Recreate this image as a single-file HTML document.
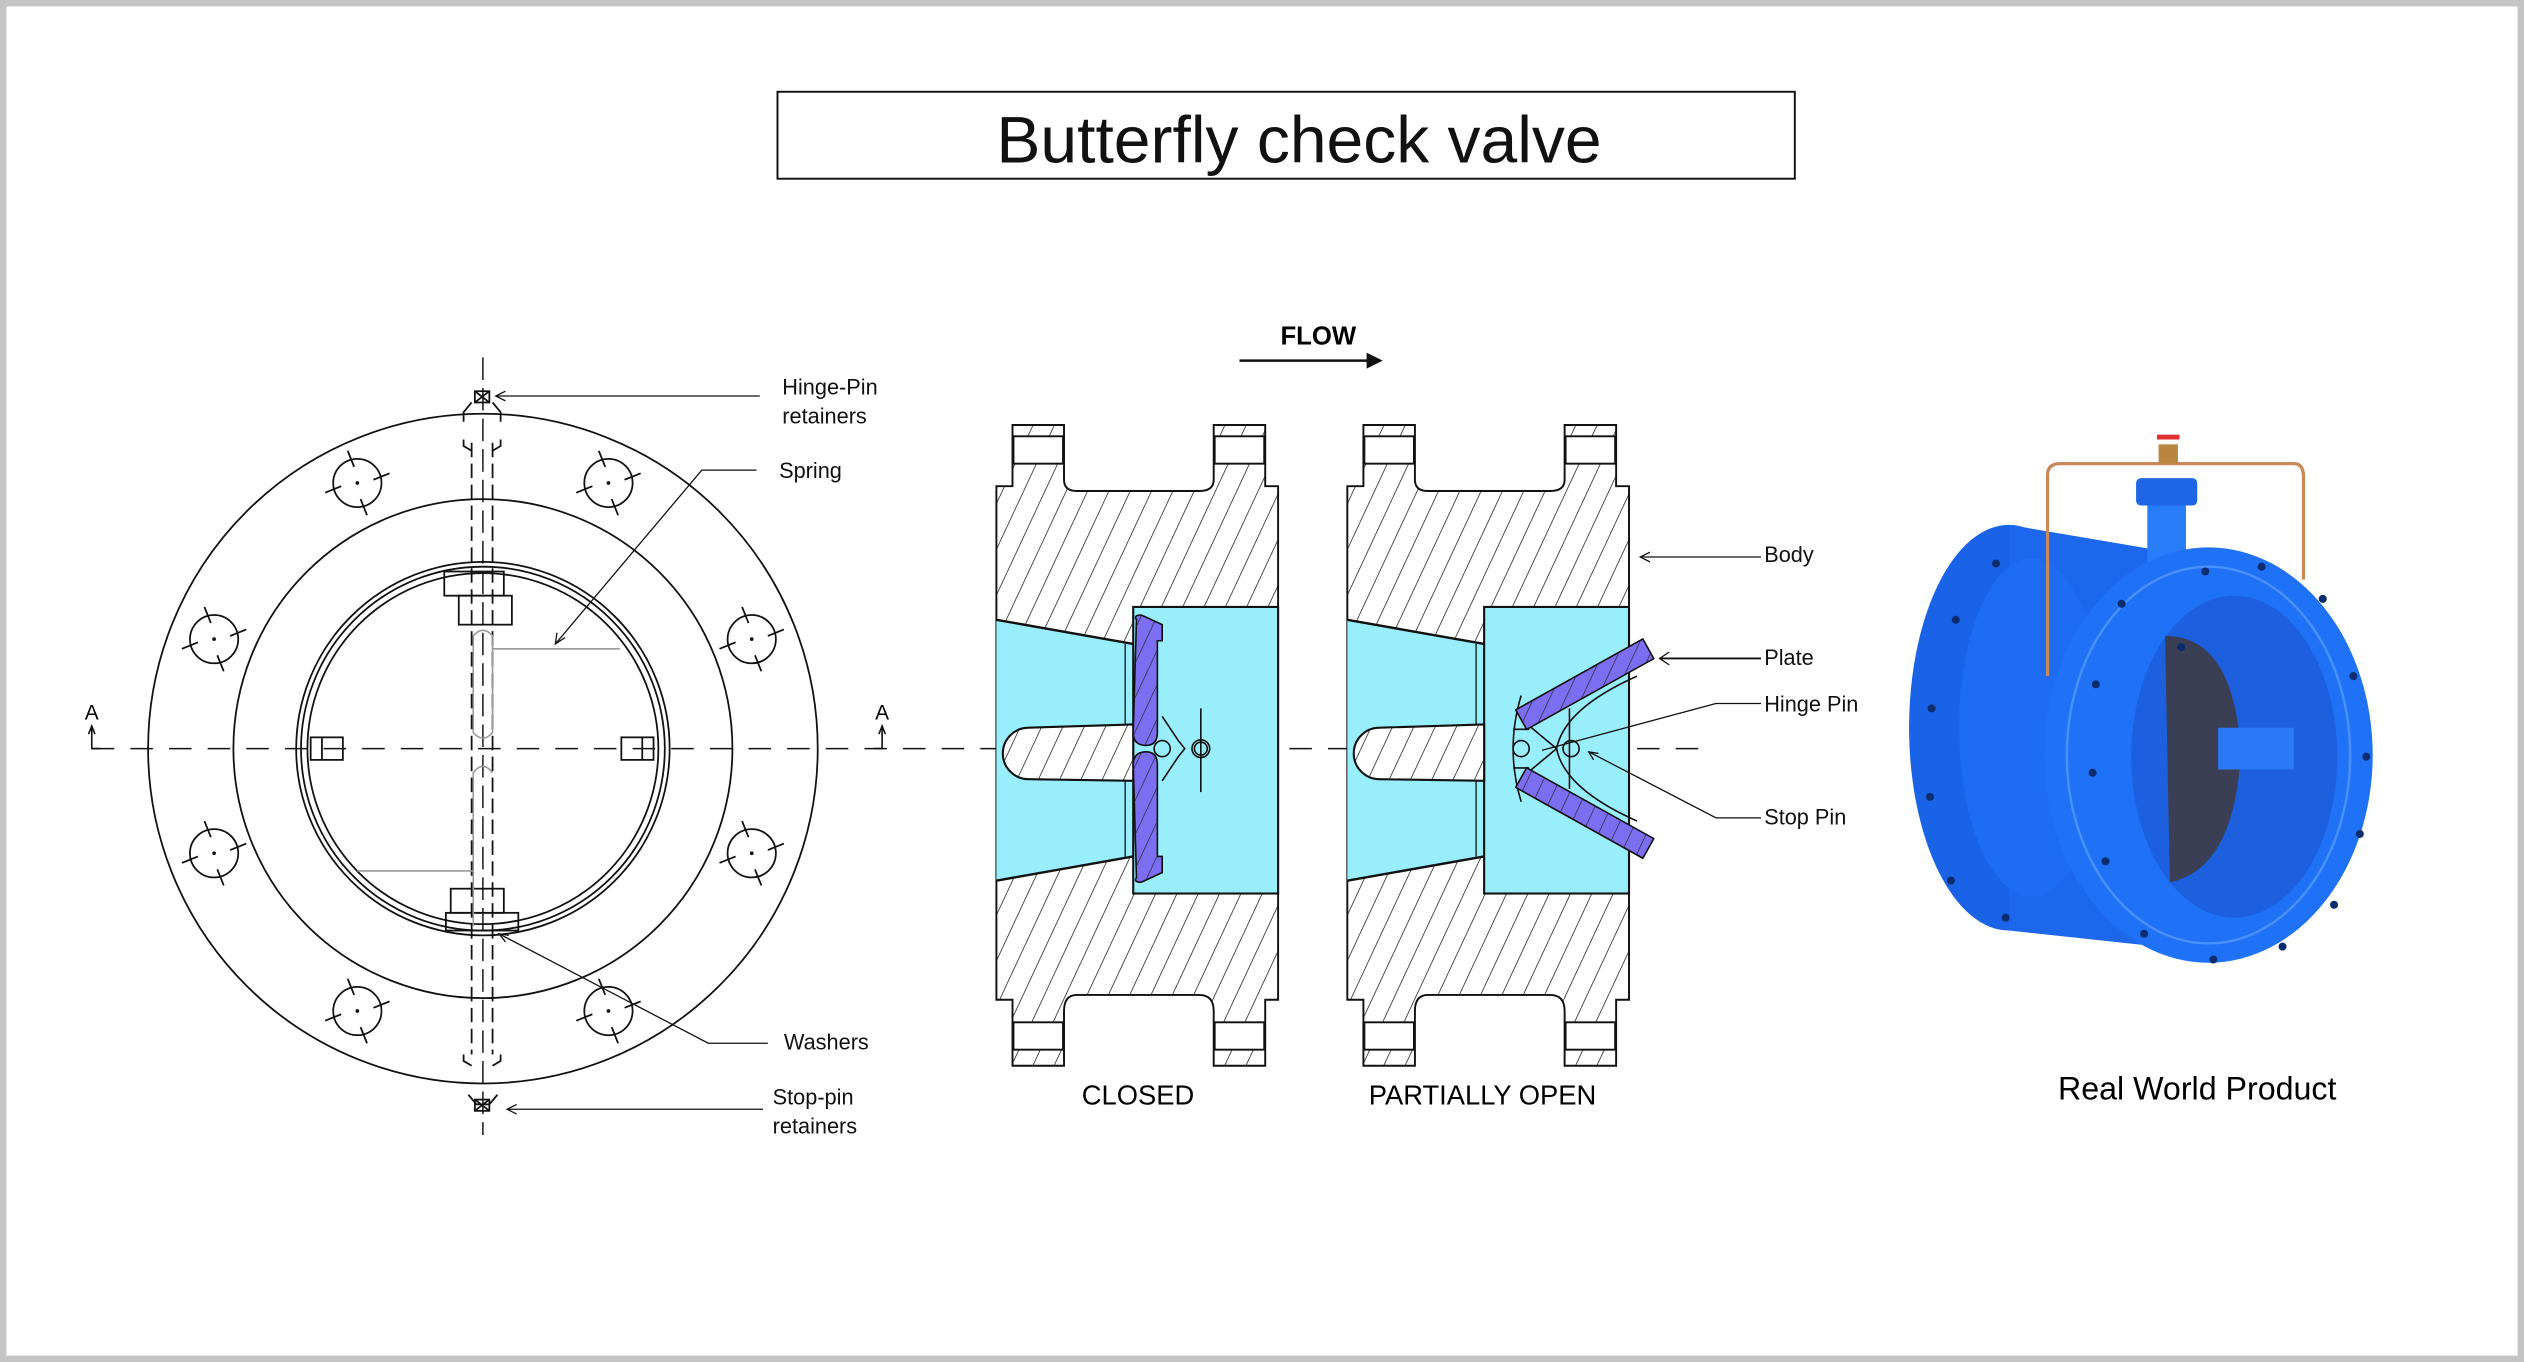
<!DOCTYPE html>
<html><head><meta charset="utf-8"><style>
html,body{margin:0;padding:0;background:#fff;}
svg{display:block;}
text{font-family:"Liberation Sans","DejaVu Sans",sans-serif;}
</style></head><body>
<svg width="2524" height="1362" viewBox="0 0 1568 846" preserveAspectRatio="none" xmlns="http://www.w3.org/2000/svg">
<defs>
<pattern id="h" patternUnits="userSpaceOnUse" width="12" height="12" patternTransform="rotate(25)">
<line x1="0" y1="0" x2="0" y2="12" stroke="#111" stroke-width="0.9"/>
</pattern>
<pattern id="hp" patternUnits="userSpaceOnUse" width="9" height="9" patternTransform="rotate(25)">
<line x1="0" y1="0" x2="0" y2="9" stroke="#222" stroke-width="0.8"/>
</pattern>
<g id="bh"><circle cx="0" cy="0" r="15"/><line x1="-6" y1="-20" x2="-2" y2="-10"/><line x1="6" y1="20" x2="2" y2="10"/><line x1="-20" y1="6" x2="-10" y2="2"/><line x1="20" y1="-6" x2="10" y2="-2"/><circle cx="0" cy="0" r="0.6"/></g>
<g id="body">
<path d="M10,264 H42 V298 Q42,305 50,305 H126 Q135,305 135,298 V264 H167 V302 H175 V621 H167 V662 H135 V628 Q135,618 126,618 H50 Q42,618 42,628 V662 H10 V621 H0 V302 H10 Z" fill="url(#h)" stroke="#111" stroke-width="1.2"/>
<rect x="10.6" y="271" width="30.8" height="17" fill="#fff" stroke="#111" stroke-width="1.2"/>
<rect x="135.6" y="271" width="30.8" height="17" fill="#fff" stroke="#111" stroke-width="1.2"/>
<rect x="10.6" y="635" width="30.8" height="17" fill="#fff" stroke="#111" stroke-width="1.2"/>
<rect x="135.6" y="635" width="30.8" height="17" fill="#fff" stroke="#111" stroke-width="1.2"/>
<polygon points="0,385 85,400 85,377 175,377 175,555 85,555 85,532 0,547" fill="#99eefc"/>
<line x1="0" y1="385" x2="85" y2="400" stroke="#111" stroke-width="1.5"/>
<line x1="0" y1="547" x2="85" y2="532" stroke="#111" stroke-width="1.5"/>
<rect x="85" y="377" width="90" height="178" fill="none" stroke="#111" stroke-width="1.3"/>
<line x1="80" y1="400" x2="80" y2="532" stroke="#111" stroke-width="0.8"/>
<path d="M85,450 L20,452 A16,16 0 0 0 20,484 L85,485 Z" fill="#fff" stroke="#111" stroke-width="1.3"/>
<path d="M85,450 L20,452 A16,16 0 0 0 20,484 L85,485 Z" fill="url(#h)"/>
</g>
</defs>
<rect x="2" y="2" width="1564" height="842" fill="#fff" stroke="#c4c4c4" stroke-width="4"/>
<rect x="483" y="57" width="632" height="54" fill="none" stroke="#111" stroke-width="1.2"/>
<text x="807" y="101" font-size="41" text-anchor="middle" fill="#111">Butterfly check valve</text>

<!-- left front view -->
<g fill="none" stroke="#111" stroke-width="1.1">
<circle cx="300" cy="465" r="208"/>
<circle cx="300" cy="465" r="155"/>
<circle cx="300" cy="465" r="116"/>
<circle cx="300" cy="465" r="113"/>
<circle cx="300" cy="465" r="109"/>
<use href="#bh" x="222" y="300"/><use href="#bh" x="378" y="300"/>
<use href="#bh" x="133" y="397"/><use href="#bh" x="467" y="397"/>
<use href="#bh" x="133" y="530"/><use href="#bh" x="467" y="530"/>
<use href="#bh" x="222" y="628"/><use href="#bh" x="378" y="628"/>
<line x1="293" y1="275" x2="293" y2="655" stroke-dasharray="9,4"/>
<line x1="306" y1="275" x2="306" y2="655" stroke-dasharray="9,4"/>
<line x1="300" y1="222" x2="300" y2="705" stroke-dasharray="14,5" stroke-width="0.9"/>
<rect x="295" y="243" width="9" height="7"/>
<path d="M295,243 L304,250 M304,243 L295,250 M295,683 L304,690 M304,683 L295,690"/>
<path d="M293,250 L288,256 V262 M306,250 L311,256 V262 M288,273 V277 L293,280 M311,273 V277 L306,280"/>
<path d="M288,655 V659 L293,662 M311,655 V659 L306,662 M291,680 L296,686 H304 L309,680"/>
<rect x="295" y="683" width="9" height="7"/>
<rect x="276" y="355" width="37" height="15"/><rect x="285" y="370" width="33" height="18"/>
<rect x="280" y="552" width="33" height="15"/><rect x="277" y="567" width="45" height="11"/>
<rect x="193" y="458" width="20" height="14"/><line x1="200" y1="458" x2="200" y2="472"/>
<rect x="386" y="458" width="20" height="14"/><line x1="399" y1="458" x2="399" y2="472"/>
</g>
<g fill="none" stroke="#999" stroke-width="1">
<path d="M294,395 V455 Q300,462 306,455 V395 Q300,388 294,395"/>
<line x1="306" y1="403" x2="385" y2="403"/>
<path d="M294,575 V480 Q300,472 306,480"/>
<line x1="222" y1="541" x2="294" y2="541"/>
</g>
<line x1="57" y1="465" x2="1055" y2="465" stroke="#111" stroke-width="0.9" stroke-dasharray="14,10"/>
<text x="57" y="447" font-size="13" text-anchor="middle">A</text>
<text x="548" y="447" font-size="13" text-anchor="middle">A</text>
<path d="M57,452 V465 H62 M548,452 V465 H543" fill="none" stroke="#111" stroke-width="1"/>
<path d="M55,456 L57,451 L59,456 M546,456 L548,451 L550,456" fill="none" stroke="#111"/>

<g stroke="#111" stroke-width="0.8" fill="none">
<line x1="308" y1="246" x2="472" y2="246"/><path d="M314,243 L308,246 L314,249"/>
<path d="M470,292 H436 L345,400"/><path d="M346,393 L345,400 L351,396"/>
<path d="M477,648 H440 L310,580"/><path d="M316,581 L310,580 L314,585"/>
<line x1="315" y1="689" x2="474" y2="689"/><path d="M321,686 L315,689 L321,692"/>
</g>
<g font-size="13.5" fill="#111">
<text x="486" y="245">Hinge-Pin</text><text x="486" y="263">retainers</text>
<text x="484" y="297">Spring</text>
<text x="487" y="652">Washers</text>
<text x="480" y="686">Stop-pin</text><text x="480" y="704">retainers</text>
</g>

<text x="819" y="214" font-size="16" font-weight="bold" text-anchor="middle">FLOW</text>
<line x1="770" y1="224" x2="852" y2="224" stroke="#111" stroke-width="1.5"/>
<path d="M849,219 L859,224 L849,229 Z" fill="#111"/>

<g transform="translate(619,0)">
<use href="#body"/>
<path d="M87,385 Q85,382 90,382 L103,388 V398 H100 V455 Q100,463 93,463 Q85,463 85,455 Z" fill="#7b6ef0" stroke="#111" stroke-width="1"/>
<path d="M87,545 Q85,548 90,548 L103,542 V532 H100 V475 Q100,467 93,467 Q85,467 85,475 Z" fill="#7b6ef0" stroke="#111" stroke-width="1"/>
<path d="M87,385 Q85,382 90,382 L103,388 V398 H100 V455 Q100,463 93,463 Q85,463 85,455 Z" fill="url(#hp)"/>
<path d="M87,545 Q85,548 90,548 L103,542 V532 H100 V475 Q100,467 93,467 Q85,467 85,475 Z" fill="url(#hp)"/>
<g fill="none" stroke="#111" stroke-width="1">
<circle cx="103" cy="465" r="5"/><circle cx="127" cy="465" r="5.5"/><circle cx="127" cy="465" r="4"/>
<line x1="127" y1="440" x2="127" y2="492"/>
<path d="M103,445 L113,460 L117,465 L113,470 L103,485"/>
</g>
</g>

<g transform="translate(837,0)">
<use href="#body"/>
<g fill="none" stroke="#111" stroke-width="1">
<path d="M108,432 Q98,465 108,498"/>
<path d="M112,450 L130,465 L112,480"/>
<path d="M180,420 Q135,440 130,465 Q135,490 180,510"/>
<line x1="138" y1="440" x2="138" y2="490"/>
<circle cx="108" cy="465" r="5"/><circle cx="139" cy="465" r="5"/>
<line x1="103" y1="453" x2="113" y2="453"/><line x1="103" y1="477" x2="113" y2="477"/>
</g>
<polygon points="104.6,440.9 183.6,396.9 190.4,409.1 111.4,453.1" fill="#7b6ef0" stroke="#111" stroke-linejoin="round" stroke-width="1"/>
<polygon points="104.6,440.9 183.6,396.9 190.4,409.1 111.4,453.1" fill="url(#hp)"/>
<polygon points="104.6,489.1 183.6,533.1 190.4,520.9 111.4,476.9" fill="#7b6ef0" stroke="#111" stroke-linejoin="round" stroke-width="1"/>
<polygon points="104.6,489.1 183.6,533.1 190.4,520.9 111.4,476.9" fill="url(#hp)"/>
</g>
<g stroke="#111" stroke-width="0.8" fill="none">
<line x1="1019" y1="346" x2="1094" y2="346"/><path d="M1025,343 L1019,346 L1025,349"/>
<line x1="1031" y1="409" x2="1094" y2="409" stroke-width="1.2"/><path d="M1037,405 L1031,409 L1037,413"/>
<path d="M1094,437 H1066 L958,466"/>
<path d="M1094,508 H1066 L987,467"/><path d="M990,472 L987,467 L993,468"/>
</g>
<g font-size="13.5" fill="#111">
<text x="1096" y="349">Body</text><text x="1096" y="413">Plate</text>
<text x="1096" y="442">Hinge Pin</text><text x="1096" y="512">Stop Pin</text>
</g>
<text x="707" y="686" font-size="17" text-anchor="middle">CLOSED</text>
<text x="921" y="686" font-size="17" text-anchor="middle">PARTIALLY OPEN</text>

<!-- product photo approximation -->
<g>
<ellipse cx="1248" cy="452" rx="62" ry="126" fill="#1a62e6"/>
<path d="M1248,326 L1360,345 L1360,590 L1248,578 Z" fill="#1c67ec"/>
<ellipse cx="1262" cy="452" rx="45" ry="105" fill="#1e6cf2"/>
<rect x="1334" y="312" width="24" height="55" fill="#2a7df8"/>
<rect x="1327" y="297" width="38" height="17" rx="3" fill="#1f66e6"/>
<path d="M1272,420 V295 Q1272,288 1280,288 H1425 Q1431,288 1431,296 V360" fill="none" stroke="#c88a5a" stroke-width="2"/>
<rect x="1341" y="276" width="12" height="12" fill="#b8863e"/>
<rect x="1340" y="270" width="14" height="3" fill="#e03030"/>
<ellipse cx="1372" cy="469" rx="102" ry="129" fill="#1f72f5"/>
<ellipse cx="1372" cy="469" rx="88" ry="117" fill="none" stroke="#4a90ff" stroke-width="1.5"/>
<ellipse cx="1388" cy="470" rx="64" ry="100" fill="#1c60df"/>
<path d="M1345,395 Q1388,395 1392,468 Q1388,540 1348,548 Z" fill="#3a3f55"/>
<path d="M1378,452 H1425 V478 H1378 Z" fill="#2a7af7"/>
<g fill="#0c2c70">
<circle cx="1355" cy="402" r="2.5"/><circle cx="1405" cy="352" r="2.5"/><circle cx="1370" cy="355" r="2.5"/>
<circle cx="1443" cy="372" r="2.5"/><circle cx="1462" cy="420" r="2.5"/><circle cx="1470" cy="470" r="2.5"/>
<circle cx="1466" cy="518" r="2.5"/><circle cx="1450" cy="562" r="2.5"/><circle cx="1418" cy="588" r="2.5"/>
<circle cx="1375" cy="596" r="2.5"/><circle cx="1332" cy="580" r="2.5"/><circle cx="1308" cy="535" r="2.5"/>
<circle cx="1300" cy="480" r="2.5"/><circle cx="1302" cy="425" r="2.5"/><circle cx="1318" cy="375" r="2.5"/>
<circle cx="1215" cy="385" r="2.5"/><circle cx="1200" cy="440" r="2.5"/><circle cx="1199" cy="495" r="2.5"/>
<circle cx="1212" cy="547" r="2.5"/><circle cx="1246" cy="570" r="2.5"/><circle cx="1240" cy="350" r="2.5"/>
</g>
</g>
<text x="1365" y="683" font-size="20" text-anchor="middle">Real World Product</text>
</svg>
</body></html>
